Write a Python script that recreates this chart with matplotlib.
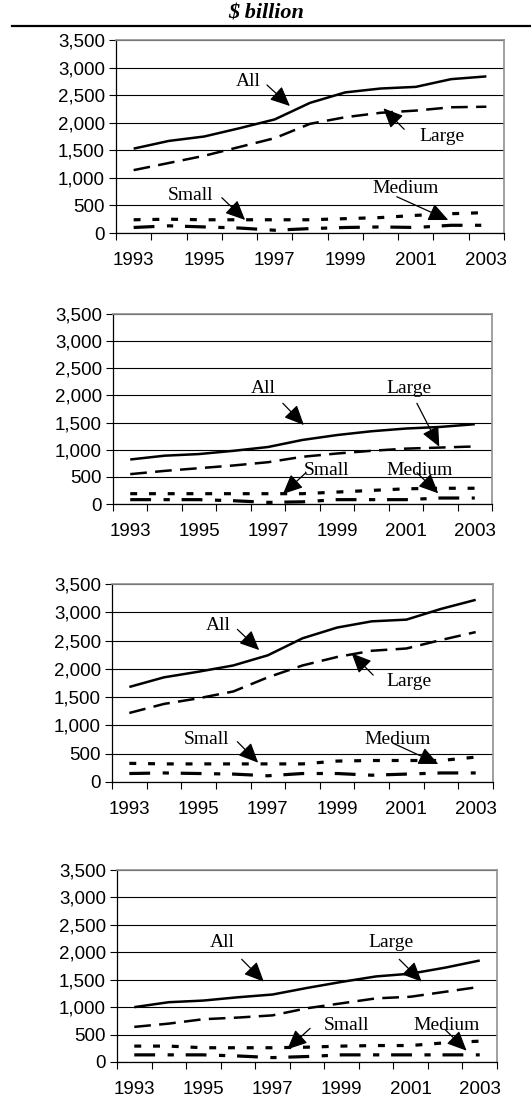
import numpy as np
import matplotlib
matplotlib.use("Agg")
import matplotlib.pyplot as plt

plt.rcParams['font.family'] = ['Liberation Sans', 'DejaVu Sans']
plt.rcParams['lines.scale_dashes'] = False

years = list(range(1993, 2004))
year_labels = ['1993', '1995', '1997', '1999', '2001', '2003']
y_ticks = [0, 500, 1000, 1500, 2000, 2500, 3000, 3500]

# panel 1
all_1 = [1530, 1670, 1750, 1900, 2060, 2360, 2550, 2620, 2650, 2790, 2840]
large_1 = [1140, 1270, 1400, 1560, 1720, 1980, 2100, 2180, 2220, 2280, 2290]
small_1 = [240, 250, 240, 240, 240, 240, 260, 280, 320, 350, 370]
medium_1 = [100, 130, 110, 90, 50, 80, 100, 110, 100, 140, 140]

# panel 2
all_2 = [820, 890, 920, 980, 1050, 1180, 1270, 1340, 1390, 1420, 1470]
large_2 = [550, 610, 660, 710, 770, 870, 930, 980, 1020, 1040, 1060]
small_2 = [190, 190, 190, 190, 190, 190, 220, 250, 280, 290, 290]
medium_2 = [80, 80, 80, 60, 30, 40, 80, 80, 80, 110, 110]

# panel 3
all_3 = [1680, 1850, 1950, 2060, 2240, 2540, 2730, 2840, 2870, 3060, 3220]
large_3 = [1220, 1380, 1480, 1600, 1850, 2060, 2210, 2320, 2360, 2510, 2650]
small_3 = [330, 320, 320, 320, 320, 320, 370, 380, 380, 380, 440]
medium_3 = [150, 160, 150, 140, 110, 150, 150, 120, 140, 160, 160]

# panel 4
all_4 = [1000, 1090, 1120, 1180, 1230, 1350, 1460, 1560, 1610, 1720, 1850]
large_4 = [640, 700, 780, 810, 850, 980, 1070, 1160, 1190, 1280, 1370]
small_4 = [290, 290, 260, 260, 260, 270, 290, 300, 300, 350, 380]
medium_4 = [130, 130, 130, 110, 80, 100, 130, 130, 130, 130, 130]

panels = [
    (all_1, large_1, small_1, medium_1),
    (all_2, large_2, small_2, medium_2),
    (all_3, large_3, small_3, medium_3),
    (all_4, large_4, small_4, medium_4),
]

# axes boxes in pixels: left, right, top, bottom
boxes = [(116, 504, 40, 233), (113, 492, 314, 504),
         (112, 493, 584, 782), (117, 497, 870, 1062)]

# label text pos, arrow tail, arrow tip (category index, value)
notes = [
    [("All", (3.24, 2744), (3.78, 2684), (4.43, 2303)),
     ("Large", (8.74, 1746), (7.67, 1881), (7.08, 2262)),
     ("Small", (1.60, 689), (2.50, 640), (3.16, 236)),
     ("Medium", (7.72, 811), (7.46, 658), (8.92, 236))],
    [("All", (3.86, 2131), (4.43, 1855), (5.04, 1455)),
     ("Large", (8.10, 2131), (8.32, 1855), (8.97, 1055)),
     ("Small", (5.70, 626), (5.10, 577), (4.43, 184)),
     ("Medium", (8.39, 626), (8.32, 577), (8.94, 197))],
    [("All", (2.57, 2774), (3.12, 2698), (3.75, 2332)),
     ("Large", (8.08, 1772), (7.04, 1890), (6.42, 2274)),
     ("Small", (2.23, 760), (3.12, 712), (3.72, 341)),
     ("Medium", (7.74, 760), (7.62, 684), (8.92, 318))],
    [("All", (2.56, 2175), (3.11, 1872), (3.75, 1464)),
     ("Large", (7.43, 2175), (7.67, 1872), (8.32, 1464)),
     ("Small", (6.15, 674), (5.09, 614), (4.43, 231)),
     ("Medium", (9.04, 674), (8.99, 596), (9.62, 206))],
]

W, H = 531, 1098
fig = plt.figure(figsize=(W / 100, H / 100), dpi=100)

fig.text(266 / W, 1 - 13 / H, "$ billion", ha='center', va='center',
         family='Liberation Serif', fontsize=16, fontweight='bold', fontstyle='italic')
fig.add_artist(plt.Line2D([12 / W, 1], [1 - 26 / H, 1 - 26 / H], color='black', lw=1.6))

x = np.arange(len(years))

for k in range(4):
    l, r, t, b = boxes[k]
    ax = fig.add_axes([l / W, 1 - b / H, (r - l) / W, (b - t) / H])
    a, lg, s, m = panels[k]

    ax.plot(x, a, color='black', lw=1.8, solid_capstyle='butt')
    ax.plot(x, lg, color='black', lw=1.8, dashes=(12, 6), dash_capstyle='butt')
    ax.plot(x, s, color='black', lw=2.3, dashes=(5, 8.5), dash_capstyle='butt')
    ax.plot(x, m, color='black', lw=2.3, dashes=(15, 9, 4.5, 8.5), dash_capstyle='butt')

    ax.set_xlim(-0.5, 10.5)
    ax.set_ylim(0, 3500)
    ax.set_yticks(y_ticks)
    ax.set_yticklabels([f"{v:,}" for v in y_ticks])
    ax.yaxis.grid(True, color='black', lw=0.8)
    ax.set_axisbelow(True)

    ax.set_xticks(np.arange(-0.5, 11, 1))
    ax.set_xticklabels([])
    ax.set_xticks(np.arange(0, 11, 2), minor=True)
    ax.set_xticklabels(year_labels, minor=True)
    ax.tick_params(axis='x', which='major', length=5, width=0.8, direction='out')
    ax.tick_params(axis='x', which='minor', length=0, pad=14, labelsize=13.5)
    ax.tick_params(axis='y', length=5, width=0.8, direction='out', pad=3, labelsize=13.5)

    for sp in ['top', 'right']:
        ax.spines[sp].set_color('#909090')
        ax.spines[sp].set_linewidth(1.2)
    ax.spines['left'].set_linewidth(0.9)
    ax.spines['bottom'].set_linewidth(0.9)

    for txt, tpos, tail, tip in notes[k]:
        ax.text(tpos[0], tpos[1], txt, ha='center', va='center',
                family='Liberation Serif', fontsize=14)
        ax.annotate("", xy=tip, xytext=tail,
                    arrowprops=dict(arrowstyle='-|>,head_length=0.55,head_width=0.25',
                                    color='black', lw=0.9,
                                    mutation_scale=22, shrinkA=0, shrinkB=0))

fig.savefig("out.png", dpi=100)
